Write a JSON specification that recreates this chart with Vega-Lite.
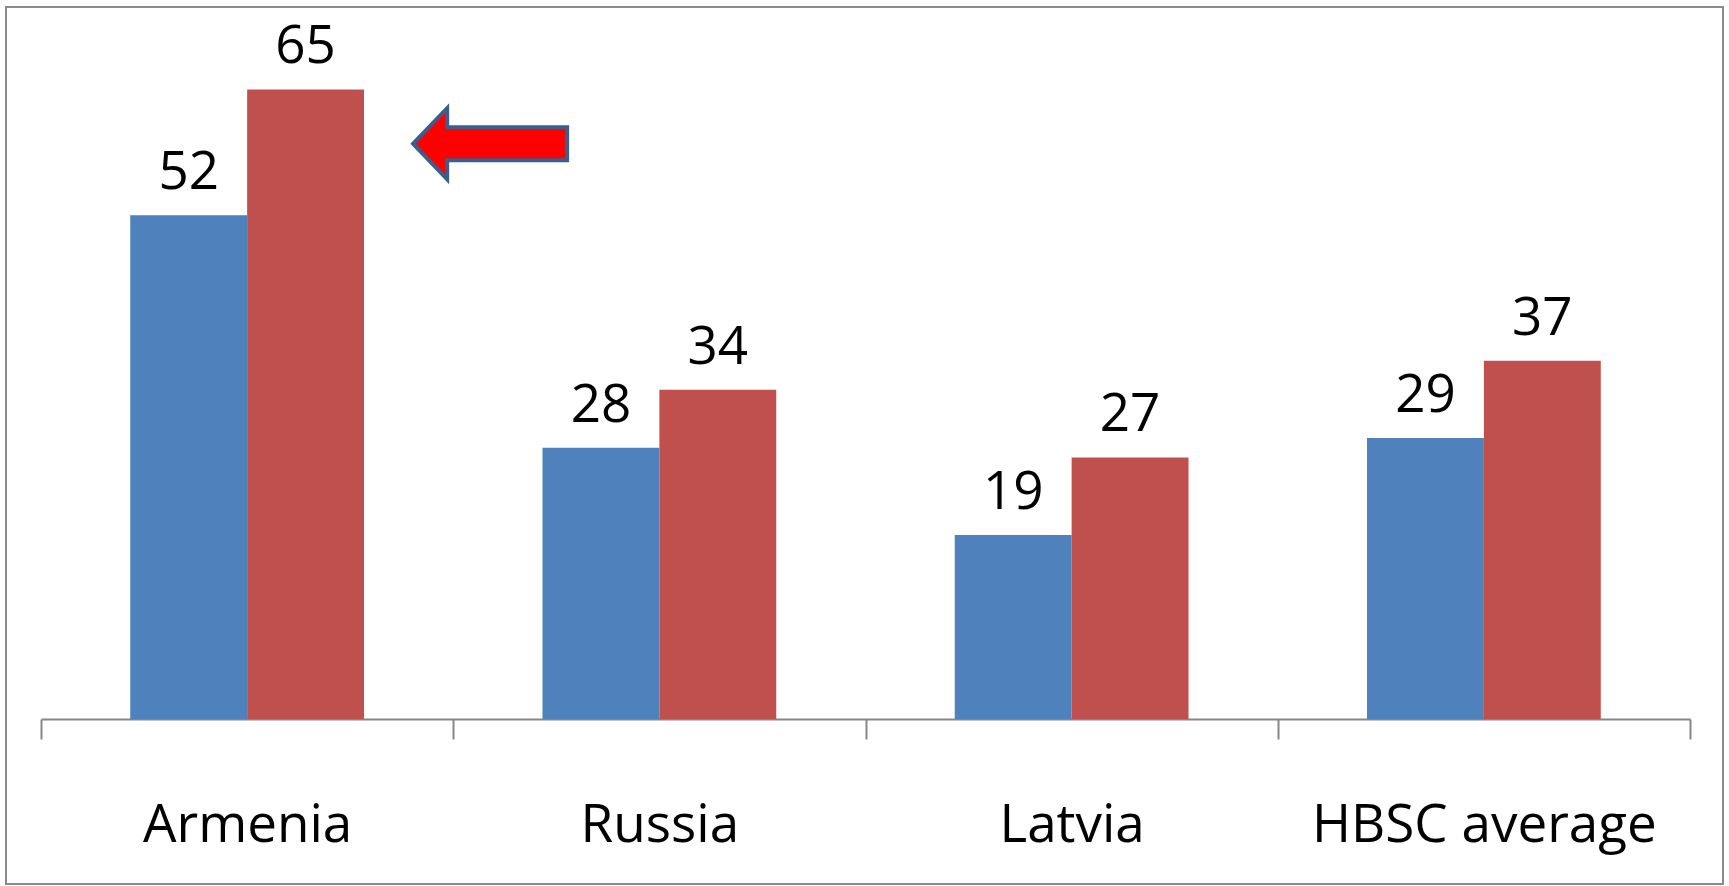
{
  "$schema": "https://vega.github.io/schema/vega-lite/v6.json",
  "width": 1717,
  "height": 877,
  "autosize": {"type": "none"},
  "padding": {"left": 6, "top": 7, "right": 6, "bottom": 2},
  "background": "white",
  "config": {
    "view": {"stroke": "#8a8a8a", "strokeWidth": 2},
    "font": "Open Sans"
  },
  "datasets": {
    "shares": [
      {"country": "Armenia", "series": "Series 1", "value": 52},
      {"country": "Armenia", "series": "Series 2", "value": 65},
      {"country": "Russia", "series": "Series 1", "value": 28},
      {"country": "Russia", "series": "Series 2", "value": 34},
      {"country": "Latvia", "series": "Series 1", "value": 19},
      {"country": "Latvia", "series": "Series 2", "value": 27},
      {"country": "HBSC average", "series": "Series 1", "value": 29},
      {"country": "HBSC average", "series": "Series 2", "value": 37}
    ],
    "pointer": [
      {"country": "Armenia", "value": 59.4}
    ]
  },
  "encoding": {
    "x": {
      "field": "country",
      "type": "nominal",
      "sort": null,
      "scale": {"range": [35, 1684], "paddingInner": 0, "paddingOuter": 0},
      "axis": {
        "title": null,
        "offset": -165,
        "domainColor": "#868686",
        "domainWidth": 2,
        "tickColor": "#868686",
        "tickWidth": 2,
        "tickSize": 20,
        "tickBand": "extent",
        "labelAngle": 0,
        "labelFont": "Open Sans",
        "labelFontSize": 53,
        "labelLimit": 0,
        "labelColor": "black",
        "labelBaseline": "alphabetic",
        "labelPadding": 102
      }
    },
    "y": {
      "field": "value",
      "type": "quantitative",
      "scale": {"domain": [0, 70], "range": [712, 34], "nice": false},
      "axis": null
    }
  },
  "layer": [
    {
      "data": {"name": "shares"},
      "mark": {"type": "bar"},
      "encoding": {
        "xOffset": {"field": "series", "type": "nominal", "scale": {"paddingInner": 0, "paddingOuter": 0.7635}},
        "color": {
          "field": "series",
          "type": "nominal",
          "scale": {"domain": ["Series 1", "Series 2"], "range": ["#4F81BD", "#C0504D"]},
          "legend": null
        }
      }
    },
    {
      "data": {"name": "shares"},
      "mark": {"type": "text", "baseline": "alphabetic", "dy": -26, "fontSize": 53, "font": "Open Sans", "color": "black"},
      "encoding": {
        "xOffset": {"field": "series", "type": "nominal"},
        "text": {"field": "value", "type": "quantitative"}
      }
    },
    {
      "data": {"name": "pointer"},
      "mark": {
        "type": "point",
        "filled": true,
        "fill": "#FF0000",
        "fillOpacity": 1,
        "stroke": "#3B5E8C",
        "strokeWidth": 4,
        "opacity": 1,
        "xOffset": 243,
        "size": 23716,
        "shape": "M -1 0 L -0.558 -0.461 L -0.558 -0.214 L 1 -0.214 L 1 0.214 L -0.558 0.214 L -0.558 0.461 Z"
      },
      "encoding": {}
    }
  ]
}
